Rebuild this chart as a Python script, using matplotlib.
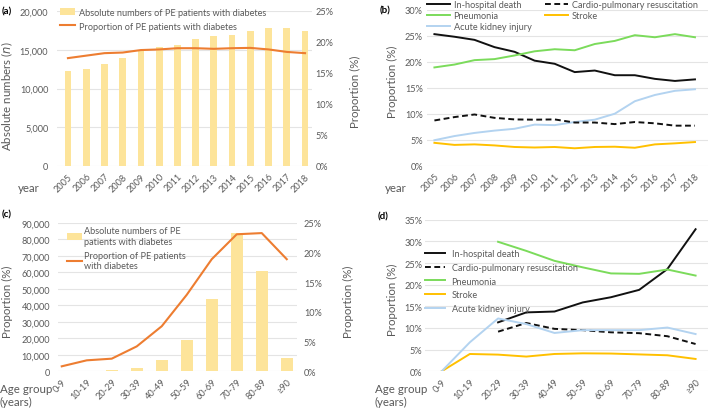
import matplotlib
matplotlib.use("Agg")
import matplotlib.pyplot as plt
from matplotlib.ticker import FuncFormatter, MultipleLocator
import numpy as np

plt.rcParams['font.family'] = ['Lato', 'DejaVu Sans']

# ---------------- data ----------------
years = ['2005', '2006', '2007', '2008', '2009', '2010', '2011', '2012', '2013',
         '2014', '2015', '2016', '2017', '2018']
abs_year = [12300, 12520, 13160, 13900, 14880, 15400, 15610, 16390, 16810,
            16940, 17460, 17810, 17810, 17380]
prop_year = [17.4, 17.8, 18.2, 18.3, 18.7, 18.8, 19.0, 19.0, 18.9,
             19.0, 19.05, 18.8, 18.4, 18.2]

death_year = [25.3, 24.8, 24.2, 22.8, 21.9, 20.2, 19.6, 18.0, 18.3,
              17.4, 17.4, 16.7, 16.3, 16.6]
cpr_year = [8.7, 9.35, 9.85, 9.2, 8.9, 8.85, 8.9, 8.3, 8.3,
            8.0, 8.4, 8.15, 7.7, 7.7]
pneu_year = [18.9, 19.45, 20.3, 20.5, 21.2, 22.0, 22.4, 22.2, 23.4,
             24.0, 25.1, 24.7, 25.3, 24.7]
stroke_year = [4.4, 4.0, 4.1, 3.9, 3.6, 3.5, 3.6, 3.35, 3.6,
               3.65, 3.45, 4.1, 4.3, 4.55]
aki_year = [4.9, 5.7, 6.3, 6.75, 7.1, 7.9, 7.8, 8.4, 8.85,
            10.0, 12.4, 13.6, 14.4, 14.7]

ages = ['0-9', '10-19', '20-29', '30-39', '40-49', '50-59', '60-69', '70-79',
        '80-89', '≥90']
abs_age = [50, 200, 900, 2200, 6900, 19000, 43900, 83900, 60900, 8100]
prop_age = [0.84, 1.85, 2.13, 4.2, 7.6, 12.9, 18.9, 23.1, 23.3, 18.9]

death_age = [np.nan, np.nan, 11.3, 13.6, 13.8, 15.9, 17.1, 18.8, 23.6, 32.8]
cpr_age = [np.nan, np.nan, 9.15, 11.15, 9.8, 9.5, 9.0, 8.8, 8.1, 6.3]
pneu_age = [np.nan, np.nan, 29.9, 27.8, 25.5, 24.0, 22.6, 22.5, 23.5, 22.1]
stroke_age = [0.0, 4.0, 3.85, 3.4, 4.0, 4.15, 4.1, 3.9, 3.7, 2.85]
aki_age = [0.0, 6.7, 12.2, 10.9, 8.85, 9.5, 9.5, 9.5, 10.1, 8.6]

# ---------------- style ----------------
W, H = 709, 410
BAR = '#FDE49A'
ORANGE = '#ED7D31'
BLACK = '#111111'
GREEN = '#7BDB5B'
BLUE = '#B3D3F0'
YELLOW = '#FFC000'
TXT = '#595959'
GRID = '#E4E4E4'
FS = 6.6     # ticks and legends
LFS = 8.3    # axis titles

fig = plt.figure(figsize=(W / 100, H / 100), dpi=100)


def rect(l, t, r, b):
    return [l / W, 1 - b / H, (r - l) / W, (b - t) / H]


def px(x, y):
    return x / W, 1 - y / H


def style(ax, grid=True):
    for s in ax.spines.values():
        s.set_visible(False)
    ax.tick_params(length=0, labelsize=FS, colors=TXT)
    if grid:
        ax.grid(axis='y', color=GRID, lw=0.8)
        ax.set_axisbelow(True)


thousands = FuncFormatter(lambda v, p: f'{int(v):,}')
pct = FuncFormatter(lambda v, p: f'{v:g}%')


def xticks(ax, labels):
    x = np.arange(len(labels))
    ax.set_xticks(x)
    ax.set_xticklabels(labels, rotation=45, ha='right', rotation_mode='anchor')
    ax.tick_params(axis='x', pad=4)


# ---------------- (a) ----------------
axa = fig.add_axes(rect(57, 12, 312, 167))
style(axa)
xa = np.arange(len(years))
b1 = axa.bar(xa, abs_year, width=0.37, color=BAR, zorder=2,
             label='Absolute numbers of PE patients with diabetes')
axa.set_xlim(-0.6, 13.38)
axa.set_ylim(0, 20000)
axa.yaxis.set_major_locator(MultipleLocator(5000))
axa.yaxis.set_major_formatter(thousands)
axa.tick_params(axis='y', pad=6.3)
xticks(axa, years)
axa2 = axa.twinx()
style(axa2, grid=False)
l1, = axa2.plot(xa, prop_year, color=ORANGE, lw=1.5,
                label='Proportion of PE patients with diabetes')
axa2.set_ylim(0, 25)
axa2.yaxis.set_major_locator(MultipleLocator(5))
axa2.yaxis.set_major_formatter(pct)
axa2.tick_params(axis='y', pad=2.5)
fig.legend(handles=[b1, l1], loc='upper left', bbox_to_anchor=px(60, 9),
           frameon=False, fontsize=FS, labelcolor=TXT, handlelength=1.65,
           handleheight=0.75, handletextpad=0.45, labelspacing=0.5,
           borderpad=0, borderaxespad=0)
fig.text(*px(7.5, 96), 'Absolute numbers ($\\it{n}$)', rotation=90,
         ha='center', va='center', fontsize=LFS, color=TXT)
fig.text(*px(355, 92), 'Proportion (%)', rotation=90, ha='center',
         va='center', fontsize=LFS, color=TXT)
fig.text(*px(18, 189), 'year', ha='left', va='center', fontsize=LFS,
         color=TXT)
fig.text(*px(2, 12), '(a)', ha='left', va='center', fontsize=7,
         fontweight='bold', color='black')

# ---------------- (b) ----------------
axb = fig.add_axes(rect(427, 10.7, 708, 166.7))
style(axb)
xb = np.arange(len(years))
hb = []
hb += axb.plot(xb, death_year, color=BLACK, lw=1.4, label='In-hospital death')
hb += axb.plot(xb, pneu_year, color=GREEN, lw=1.4, label='Pneumonia')
hb += axb.plot(xb, aki_year, color=BLUE, lw=1.4, label='Acute kidney injury')
hb += axb.plot(xb, cpr_year, color=BLACK, lw=1.4, dashes=(3, 1.8),
               label='Cardio-pulmonary resuscitation')
hb += axb.plot(xb, stroke_year, color=YELLOW, lw=1.4, label='Stroke')
axb.set_xlim(-0.37, 13.65)
axb.set_ylim(0, 30)
axb.yaxis.set_major_locator(MultipleLocator(5))
axb.yaxis.set_major_formatter(pct)
axb.tick_params(axis='y', pad=3)
xticks(axb, years)
fig.legend(handles=hb, loc='upper left', bbox_to_anchor=px(427, 1.5), ncol=2,
           frameon=False, fontsize=FS, labelcolor=TXT, handlelength=2.5,
           handletextpad=0.4, labelspacing=0.18, columnspacing=1.5,
           borderpad=0, borderaxespad=0)
fig.text(*px(392, 82), 'Proportion (%)', rotation=90, ha='center',
         va='center', fontsize=LFS, color=TXT)
fig.text(*px(385, 189), 'year', ha='left', va='center', fontsize=LFS,
         color=TXT)
fig.text(*px(380, 11), '(b)', ha='left', va='center', fontsize=7,
         fontweight='bold', color='black')

# ---------------- (c) ----------------
axc = fig.add_axes(rect(58, 224, 297, 372.3))
style(axc)
xc = np.arange(len(ages))
b2 = axc.bar(xc, abs_age, width=0.47, color=BAR, zorder=2,
             label='Absolute numbers of PE\npatients with diabetes')
axc.set_xlim(-0.15, 9.41)
axc.set_ylim(0, 90000)
axc.yaxis.set_major_locator(MultipleLocator(10000))
axc.yaxis.set_major_formatter(thousands)
axc.tick_params(axis='y', pad=5.8)
xticks(axc, ages)
axc2 = axc.twinx()
style(axc2, grid=False)
l2, = axc2.plot(xc, prop_age, color=ORANGE, lw=1.5,
                label='Proportion of PE patients\nwith diabetes')
axc2.set_ylim(0, 25)
axc2.yaxis.set_major_locator(MultipleLocator(5))
axc2.yaxis.set_major_formatter(pct)
axc2.tick_params(axis='y', pad=5)
fig.legend(handles=[b2, l2], loc='upper left', bbox_to_anchor=px(67, 227.5),
           frameon=False, fontsize=FS, labelcolor=TXT, handlelength=1.65,
           handleheight=0.75, handletextpad=0.2, labelspacing=0.55,
           borderpad=0, borderaxespad=0)
fig.text(*px(7.5, 302), 'Proportion (%)', rotation=90, ha='center',
         va='center', fontsize=LFS, color=TXT)
fig.text(*px(348, 302), 'Proportion (%)', rotation=90, ha='center',
         va='center', fontsize=LFS, color=TXT)
fig.text(*px(0, 396), 'Age group\n(years)', ha='left', va='center',
         fontsize=LFS, color=TXT, linespacing=1.15)
fig.text(*px(2, 215), '(c)', ha='left', va='center', fontsize=7,
         fontweight='bold', color='black')

# ---------------- (d) ----------------
axd = fig.add_axes(rect(425, 220.7, 708, 372.3))
style(axd)
xd = np.arange(len(ages))
hd = []
hd += axd.plot(xd, death_age, color=BLACK, lw=1.4, label='In-hospital death')
hd += axd.plot(xd, cpr_age, color=BLACK, lw=1.4, dashes=(3, 1.8),
               label='Cardio-pulmonary resuscitation')
hd += axd.plot(xd, pneu_age, color=GREEN, lw=1.4, label='Pneumonia')
hd += axd.plot(xd, stroke_age, color=YELLOW, lw=1.4, label='Stroke')
hd += axd.plot(xd, aki_age, color=BLUE, lw=1.4, label='Acute kidney injury')
axd.set_xlim(-0.59, 9.44)
axd.set_ylim(0, 35)
axd.yaxis.set_major_locator(MultipleLocator(5))
axd.yaxis.set_major_formatter(pct)
axd.tick_params(axis='y', pad=1.8)
xticks(axd, ages)
fig.legend(handles=hd, loc='upper left', bbox_to_anchor=px(425, 250),
           frameon=False, fontsize=FS, labelcolor=TXT, handlelength=2.2,
           handletextpad=0.7, labelspacing=0.52,
           borderpad=0, borderaxespad=0)
fig.text(*px(392, 300), 'Proportion (%)', rotation=90, ha='center',
         va='center', fontsize=LFS, color=TXT)
fig.text(*px(375, 396), 'Age group\n(years)', ha='left', va='center',
         fontsize=LFS, color=TXT, linespacing=1.15)
fig.text(*px(378, 217), '(d)', ha='left', va='center', fontsize=7,
         fontweight='bold', color='black')

fig.savefig('out.png', dpi=100)
